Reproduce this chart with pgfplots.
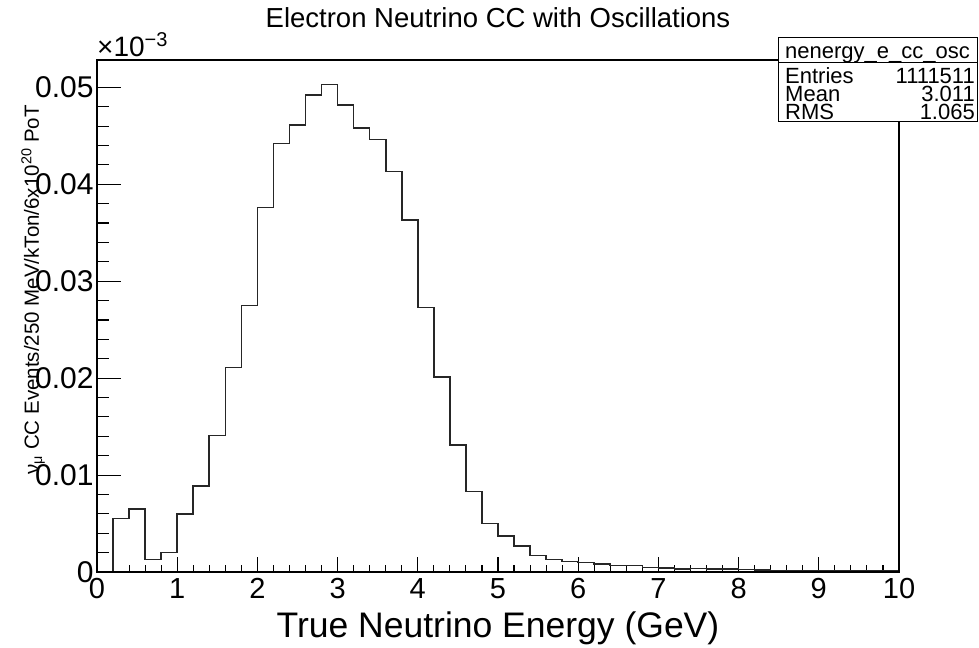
\documentclass[border=0pt]{standalone}
\usepackage{fontspec}
\setmainfont{Liberation Sans}
\usepackage{pgfplots}
\pgfplotsset{compat=1.18}
\begin{document}
\begin{tikzpicture}
\pgfplotsset{
  base/.style={scale only axis, width=802pt, height=512pt,
    xmin=0, xmax=10, ymin=0, ymax=0.05282,
    scaled ticks=false,
    axis line style={line width=1.4pt, black},
    tick align=inside, tick style={line width=1.1pt, black},
    /pgf/number format/assume math mode=true}
}
\begin{axis}[base, xtick={0,1,...,10}, minor x tick num=4, xtick pos=bottom, ytick=\empty,
  major tick length=15pt, minor tick length=7.5pt,
  xticklabel style={font=\fontsize{29}{31}\selectfont, yshift=-3pt}]
\addplot[const plot mark left, line width=1.6pt, color=black!85] coordinates {
(0,0) (0.2,0.0055) (0.4,0.0065) (0.6,0.0013) (0.8,0.0020)
(1.0,0.0060) (1.2,0.0089) (1.4,0.0141) (1.6,0.0211) (1.8,0.0275)
(2.0,0.0376) (2.2,0.0442) (2.4,0.0461) (2.6,0.0492) (2.8,0.0503)
(3.0,0.0482) (3.2,0.0458) (3.4,0.0446) (3.6,0.0413) (3.8,0.0363)
(4.0,0.0273) (4.2,0.0201) (4.4,0.0131) (4.6,0.0083) (4.8,0.0050)
(5.0,0.0037) (5.2,0.0027) (5.4,0.0017) (5.6,0.0013) (5.8,0.0011)
(6.0,0.00096) (6.2,0.00082) (6.4,0.00068) (6.6,0.00068) (6.8,0.00047)
(7.0,0.00041) (7.2,0.00031) (7.4,0.00035) (7.6,0.00033) (7.8,0.00030)
(8.0,0.00024) (8.2,0.00022) (8.4,0.00016) (8.6,0.00015) (8.8,0.00013)
(9.0,0.00012) (9.2,0.00011) (9.4,0.00010) (9.6,0.00009) (9.8,0.00008)
(10,0.00008) (10,0)
};
\end{axis}
\begin{axis}[base, xtick=\empty, ytick={0,0.01,0.02,0.03,0.04,0.05},
  yticklabels={0,0.01,0.02,0.03,0.04,0.05}, minor y tick num=4, ytick pos=left,
  major tick length=24pt, minor tick length=12pt,
  yticklabel style={font=\fontsize{30}{32}\selectfont}]
\end{axis}
% title and labels
\node[anchor=base, font=\fontsize{27.5}{30}\selectfont] at (401pt,544pt) {Electron Neutrino CC with Oscillations};
\node[anchor=base west, inner sep=0pt, font=\fontsize{28}{30}\selectfont] at (0pt,515pt) {×10\raisebox{10pt}{\fontsize{20}{22}\selectfont −3}};
\node[anchor=base, font=\fontsize{35.5}{40}\selectfont] at (401pt,-65pt) {True Neutrino Energy (GeV)};
\node[rotate=90, anchor=base east, inner sep=0pt, font=\fontsize{20.5}{22}\selectfont] at (-58pt,467pt) {ν\textsubscript{μ} CC Events/250 MeV/kTon/6x10\textsuperscript{20} PoT};
% stats box
\draw[fill=white, line width=1pt] (681pt,450pt) rectangle (880pt,534pt);
\draw[line width=1pt] (681pt,509pt) -- (880pt,509pt);
\begin{scope}[font=\fontsize{22}{24}\selectfont, inner sep=0pt]
\node[anchor=base] at (780.5pt,513.7pt) {nenergy\_e\_cc\_osc};
\node[anchor=base west] at (688pt,488pt) {Entries};
\node[anchor=base east] at (878pt,488pt) {1111511};
\node[anchor=base west] at (688pt,470.3pt) {Mean};
\node[anchor=base east] at (878pt,470.3pt) {3.011};
\node[anchor=base west] at (688pt,452.5pt) {RMS};
\node[anchor=base east] at (878pt,452.5pt) {1.065};
\end{scope}
\path[use as bounding box] (-97pt,-68pt) rectangle (882pt,572pt);
\end{tikzpicture}
\end{document}
